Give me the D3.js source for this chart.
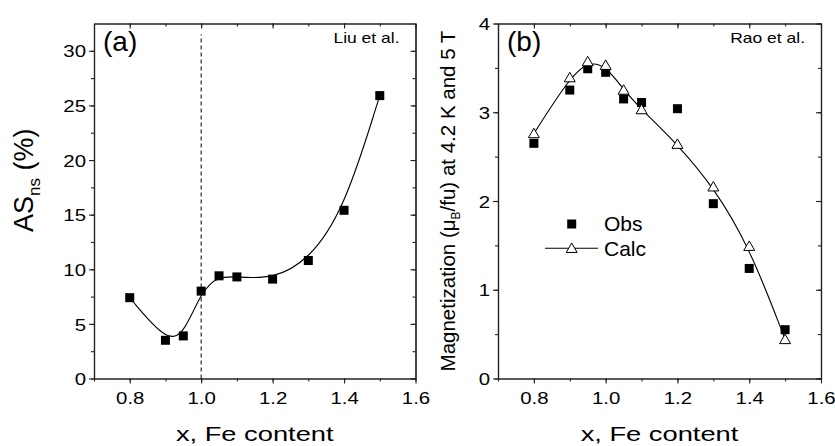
<!DOCTYPE html>
<html lang="en">
  <head>
    <meta charset="UTF-8" />
    <title>AS and magnetization vs Fe content</title>
    <script src="https://d3js.org/d3.v7.min.js"></script>
    <style>
      body { margin: 0; background: #fff; }
      svg text { font-family: "Liberation Sans", Arial, sans-serif; fill: #000; }
    </style>
  </head>
  <body>
    <svg id="chart" width="835" height="446"></svg>

    <script>
      // ---- data ----
      const xTicks = [0.8, 1.0, 1.2, 1.4, 1.6];

      // panel (a), Liu et al.
      const feA = [0.8, 0.9, 0.95, 1.0, 1.05, 1.1, 1.2, 1.3, 1.4, 1.5];
      const asNs = [7.4, 3.5, 3.9, 8.0, 9.4, 9.3, 9.1, 10.8, 15.4, 25.9];
      const yTicksA = [0, 5, 10, 15, 20, 25, 30];

      // panel (b), Rao et al.
      const feB = [0.8, 0.9, 0.95, 1.0, 1.05, 1.1, 1.2, 1.3, 1.4, 1.5];
      const magObs = [2.65, 3.25, 3.49, 3.45, 3.15, 3.11, 3.04, 1.97, 1.24, 0.55];
      const magCalc = [2.76, 3.39, 3.57, 3.53, 3.25, 3.03, 2.64, 2.16, 1.49, 0.44];
      const yTicksB = [0, 1, 2, 3, 4];

      const svg = d3.select("#chart");
      const plotTop = 23.5, plotBottom = 378.5;
      const fmtX = d3.format(".1f");

      function panel(o) {
        const x = d3.scaleLinear().domain([0.7, 1.6]).range([o.left, o.right]);
        const y = d3.scaleLinear().domain(o.yDomain).range([plotBottom, plotTop]);
        const g = svg.append("g");
        const xMinor = d3.range(7, 17).map(d => d / 10);

        // bottom axis, outward ticks
        g.append("g")
          .attr("transform", `translate(0,${plotBottom})`)
          .call(d3.axisBottom(x).tickValues(xMinor).tickSize(3).tickSizeOuter(0).tickFormat(""));
        const bx = g.append("g")
          .attr("transform", `translate(0,${plotBottom})`)
          .call(d3.axisBottom(x).tickValues(xTicks).tickSize(5).tickSizeOuter(0).tickFormat(fmtX));
        bx.selectAll("text")
          .attr("y", 25.5).attr("dy", 0)
          .attr("transform", "scale(1.2,1)")
          .style("font-size", "17px");

        // left axis, outward ticks
        g.append("g")
          .attr("transform", `translate(${o.left},0)`)
          .call(d3.axisLeft(y).tickValues(o.yMinor).tickSize(3).tickSizeOuter(0).tickFormat(""));
        const ly = g.append("g")
          .attr("transform", `translate(${o.left},0)`)
          .call(d3.axisLeft(y).tickValues(o.yTicks).tickSize(5).tickSizeOuter(0).tickFormat(d3.format("d")));
        ly.selectAll("text")
          .attr("x", -8 / 1.2).attr("dy", "0.36em")
          .attr("transform", "scale(1.2,1)")
          .style("font-size", "17px");

        // top and right mirror axes, inward ticks
        g.append("g")
          .attr("transform", `translate(0,${plotTop})`)
          .call(d3.axisBottom(x).tickValues(xTicks).tickSize(5).tickSizeOuter(0).tickFormat(""));
        g.append("g")
          .attr("transform", `translate(0,${plotTop})`)
          .call(d3.axisBottom(x).tickValues(xMinor).tickSize(3).tickSizeOuter(0).tickFormat(""));
        g.append("g")
          .attr("transform", `translate(${o.right},0)`)
          .call(d3.axisLeft(y).tickValues(o.yTicks).tickSize(5).tickSizeOuter(0).tickFormat(""));
        g.append("g")
          .attr("transform", `translate(${o.right},0)`)
          .call(d3.axisLeft(y).tickValues(o.yMinor).tickSize(3).tickSizeOuter(0).tickFormat(""));

        g.selectAll(".domain").attr("stroke", "#222").attr("stroke-width", 1.2);
        g.selectAll(".tick line").attr("stroke", "#222").attr("stroke-width", 1.1);

        // x title
        g.append("text")
          .attr("transform", `translate(${(o.left + o.right) / 2},441) scale(1.3,1)`)
          .attr("text-anchor", "middle")
          .style("font-size", "21px")
          .text("x, Fe content");

        // panel label and source
        g.append("text")
          .attr("x", o.left + 9).attr("y", 51)
          .style("font-size", "28px")
          .text(o.tag);
        g.append("text")
          .attr("transform", `translate(${o.right - 16},43) scale(1.25,1)`)
          .attr("text-anchor", "end")
          .style("font-size", "14px")
          .text(o.source);

        return { x, y, g };
      }

      // ---------- panel (a) ----------
      const A = panel({
        left: 94, right: 415.5, yDomain: [0, 32.5],
        yTicks: yTicksA, yMinor: d3.range(0, 13).map(d => d * 2.5),
        tag: "(a)", source: "Liu et al."
      });

      A.g.append("line")
        .attr("x1", A.x(1.0)).attr("x2", A.x(1.0))
        .attr("y1", A.y(0)).attr("y2", A.y(31.5))
        .attr("stroke", "#000").attr("stroke-width", 1)
        .attr("stroke-dasharray", "4,3");

      const ptsA = feA.map((d, i) => [d, asNs[i]]);
      A.g.append("path")
        .datum(ptsA)
        .attr("fill", "none").attr("stroke", "#000").attr("stroke-width", 1.1)
        .attr("d", d3.line().x(d => A.x(d[0])).y(d => A.y(d[1])).curve(d3.curveBasis));

      A.g.selectAll("rect.pt")
        .data(ptsA).enter().append("rect")
        .attr("class", "pt")
        .attr("x", d => A.x(d[0]) - 4.5).attr("y", d => A.y(d[1]) - 4.5)
        .attr("width", 9).attr("height", 9)
        .attr("fill", "#000");

      const labA = svg.append("text")
        .attr("transform", "translate(33,232) rotate(-90)")
        .style("font-size", "27px");
      labA.append("tspan").text("AS");
      labA.append("tspan").attr("dy", 7).style("font-size", "17px").text("ns");
      labA.append("tspan").attr("dy", -7).text(" (%)");

      // ---------- panel (b) ----------
      const B = panel({
        left: 498, right: 821, yDomain: [0, 4],
        yTicks: yTicksB, yMinor: d3.range(0, 9).map(d => d * 0.5),
        tag: "(b)", source: "Rao et al."
      });

      const calcPts = feB.map((d, i) => [d, magCalc[i]]);
      const obsPts = feB.map((d, i) => [d, magObs[i]]);
      const tri = d3.symbol().type(d3.symbolTriangle).size(52);

      B.g.append("path")
        .datum(calcPts)
        .attr("fill", "none").attr("stroke", "#000").attr("stroke-width", 1.1)
        .attr("d", d3.line().x(d => B.x(d[0])).y(d => B.y(d[1])).curve(d3.curveBasis));

      B.g.selectAll("rect.obs")
        .data(obsPts).enter().append("rect")
        .attr("class", "obs")
        .attr("x", d => B.x(d[0]) - 4.5).attr("y", d => B.y(d[1]) - 4.5)
        .attr("width", 9).attr("height", 9)
        .attr("fill", "#000");

      B.g.selectAll("path.calc")
        .data(calcPts).enter().append("path")
        .attr("class", "calc")
        .attr("transform", d => `translate(${B.x(d[0])},${B.y(d[1]) + 1})`)
        .attr("d", tri)
        .attr("fill", "#fff").attr("stroke", "#000").attr("stroke-width", 1);

      // legend
      const lg = B.g.append("g");
      lg.append("rect").attr("x", 567.2).attr("y", 219.5).attr("width", 9).attr("height", 9).attr("fill", "#000");
      lg.append("text").attr("transform", "translate(604,231) scale(1.05,1)").style("font-size", "20px").text("Obs");
      lg.append("line").attr("x1", 545).attr("x2", 598).attr("y1", 248.3).attr("y2", 248.3)
        .attr("stroke", "#000").attr("stroke-width", 1.1);
      lg.append("path").attr("transform", "translate(571.7,249.3)").attr("d", tri)
        .attr("fill", "#fff").attr("stroke", "#000");
      lg.append("text").attr("transform", "translate(604,255.5) scale(1.05,1)").style("font-size", "20px").text("Calc");

      const labB = svg.append("text")
        .attr("transform", "translate(455,201) rotate(-90)")
        .attr("text-anchor", "middle")
        .style("font-size", "20.5px");
      labB.append("tspan").text("Magnetization (\u03bc");
      labB.append("tspan").attr("dy", 5).style("font-size", "12px").text("B");
      labB.append("tspan").attr("dy", -5).text("/fu) at 4.2 K and 5 T");
    </script>
  </body>
</html>
